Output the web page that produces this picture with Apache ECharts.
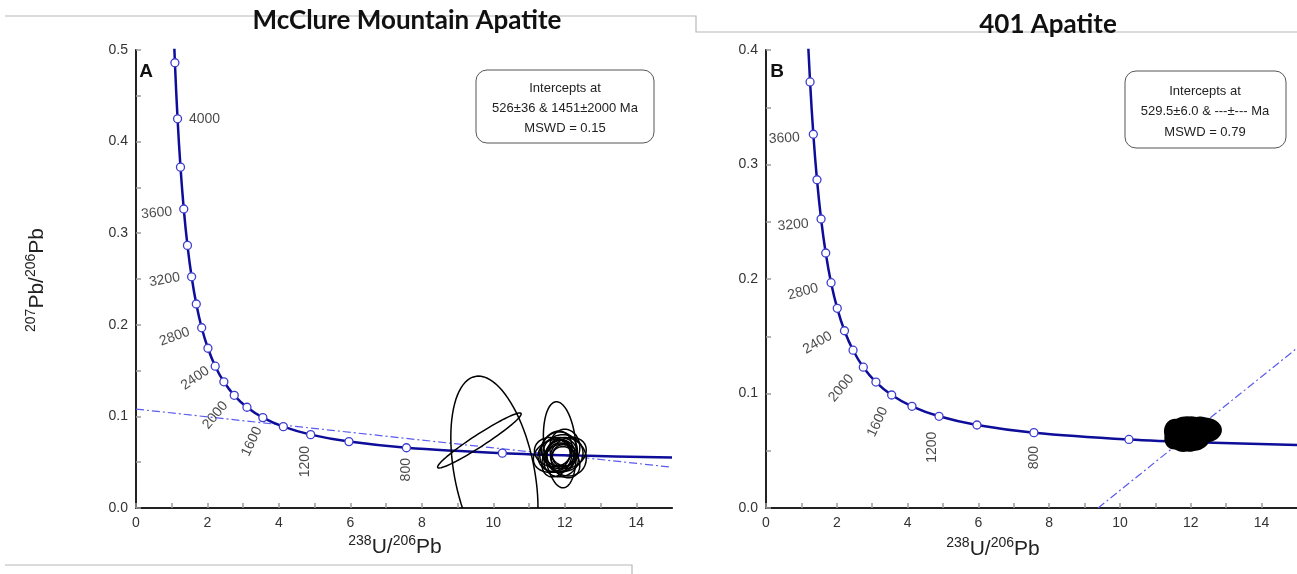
<!DOCTYPE html>
<html>
<head>
<meta charset="utf-8">
<script src="https://cdn.jsdelivr.net/npm/echarts@6/dist/echarts.min.js"></script>
<style>html,body{margin:0;padding:0;background:#fff}#c{width:1297px;height:574px}</style>
</head>
<body>
<div id="c"></div>
<script>
// ---- data ----
const concordiaAges = [4200,4000,3800,3600,3400,3200,3000,2800,2600,2400,2200,2000,1800,1600,1400,1200,1000,800,600];
const concordiaX = [1.089,1.163,1.245,1.337,1.440,1.556,1.687,1.838,2.013,2.217,2.459,2.749,3.105,3.550,4.123,4.888,5.959,7.568,10.252];
const concordiaY = [0.4861,0.4249,0.3721,0.3264,0.2867,0.2524,0.2227,0.1968,0.1744,0.1548,0.1378,0.1230,0.1100,0.0987,0.0888,0.0801,0.0725,0.0658,0.0599];
// curve ends beyond the marked ages (top and right)
const curveStart = [1.0215, 0.557];
const curveEnd = [[12.40, 0.0572], [15.0, 0.0551]];

const labelledAgesA = [4000,3600,3200,2800,2400,2000,1600,1200,800];
const labelledAgesB = [3600,3200,2800,2400,2000,1600,1200,800];

// discordia (regression) lines: endpoints [x, y]
const discordiaA = [[0, 0.108], [15, 0.0445]];
const discordiaB = [[9.38, 0], [15, 0.1396]];

// error ellipses: [centre x, centre y, sigma x, sigma y, correlation]
const ellipsesA = [
  [10.03, 0.0385, 1.22, 0.1055, -0.365],
  [9.61, 0.0737, 1.17, 0.030, 0.965],
  [11.86, 0.069, 0.46, 0.047, -0.2],
  [11.80, 0.058, 0.55, 0.019, 0.1],
  [11.95, 0.060, 0.56, 0.020, 0.0],
  [11.70, 0.057, 0.58, 0.018, 0.2],
  [12.05, 0.056, 0.55, 0.021, -0.1],
  [11.85, 0.063, 0.50, 0.020, 0.0],
  [11.90, 0.052, 0.48, 0.018, 0.1],
  [11.75, 0.062, 0.45, 0.022, 0.2],
  [12.00, 0.066, 0.42, 0.020, 0.0],
  [11.88, 0.055, 0.40, 0.016, 0.0],
  [11.82, 0.060, 0.35, 0.014, 0.1],
  [12.10, 0.060, 0.50, 0.017, 0.2],
  [11.65, 0.061, 0.50, 0.016, -0.1],
  [11.95, 0.057, 0.30, 0.012, 0.0],
  [11.78, 0.054, 0.42, 0.020, 0.3],
  [12.02, 0.050, 0.40, 0.017, -0.2]
];
const ellipsesB = [
  [11.75, 0.066, 0.40, 0.012, 0.1],
  [11.90, 0.064, 0.45, 0.013, 0.0],
  [12.10, 0.066, 0.45, 0.012, -0.1],
  [12.40, 0.068, 0.45, 0.010, 0.0],
  [11.60, 0.063, 0.32, 0.011, 0.2],
  [11.85, 0.070, 0.40, 0.009, 0.0],
  [12.00, 0.060, 0.38, 0.010, 0.1],
  [11.70, 0.060, 0.30, 0.010, -0.2],
  [12.20, 0.062, 0.35, 0.011, 0.2],
  [11.95, 0.067, 0.50, 0.012, 0.0],
  [12.30, 0.070, 0.35, 0.009, -0.1],
  [11.55, 0.067, 0.28, 0.010, 0.0],
  [12.05, 0.072, 0.30, 0.007, 0.0],
  [11.80, 0.057, 0.25, 0.007, 0.0]
];

const boxTextA = ['Intercepts at', '526±36 & 1451±2000 Ma', 'MSWD = 0.15'];
const boxTextB = ['Intercepts at', '529.5±6.0 & ---±--- Ma', 'MSWD = 0.79'];

// ---- label placement: screen offset dx, dy (px) and rotation (deg) ----
const labelPlaceA = {4000:[27,0,0],3600:[-27,4,5],3200:[-27,3,10],2800:[-27,9,20],2400:[-20,12,35],2000:[-19,20,50],1600:[-11,24,65],1200:[-6,27,90],800:[0,22,90]};
const labelPlaceB = {3600:[-29,4,3],3200:[-28,6,5],2800:[-28,9,15],2400:[-27,12,30],2000:[-22,21,50],1600:[-14,27,65],1200:[-7,31,90],800:[0,25,90]};

const FONT = 'Liberation Sans, Arial, sans-serif';
const markerPts = concordiaX.map((x,i)=>[x, concordiaY[i]]);
const curvePts = [curveStart].concat(markerPts, curveEnd);

function ageLabelData(ages, place){
  return ages.map(a=>{
    const i = concordiaAges.indexOf(a);
    const p = place[a];
    const th = p[2]*Math.PI/180, c=Math.cos(th), s=Math.sin(th);
    // offset is applied in the label's rotated frame, so rotate it back
    const ox = p[0]*c - p[1]*s, oy = p[0]*s + p[1]*c;
    return {value:[concordiaX[i], concordiaY[i]], name:String(a),
      label:{offset:[ox, oy], rotate:p[2]}};
  });
}

function ellipseRender(fill, lw){
  return function(params, api){
    const cx=api.value(0), cy=api.value(1), sx=api.value(2), sy=api.value(3), r=api.value(4);
    const k=Math.sqrt(1-r*r);
    const pts=[];
    for(let i=0;i<90;i++){
      const t=i/90*2*Math.PI;
      pts.push(api.coord([cx+sx*Math.cos(t), cy+sy*(r*Math.cos(t)+k*Math.sin(t))]));
    }
    return {type:'polygon', shape:{points:pts}, style:{fill:fill, stroke:'#000', lineWidth:lw}};
  };
}

function yFmt(v){ return Math.round(v*100)%10===0 ? v.toFixed(1) : ''; }
function xFmt(v){ return Math.round(v)%2===0 ? String(Math.round(v)) : ''; }

const richName = {
  m:{fontSize:21, fontFamily:FONT, fill:'#222', lineHeight:26},
  s:{fontSize:14, fontFamily:FONT, fill:'#222', verticalAlign:'top', lineHeight:26}
};

function baseX(grid){
  return {gridIndex:grid, type:'value', min:0, max:15, interval:1,
    axisLine:{lineStyle:{color:'#9a9a9a', width:2}},
    axisTick:{inside:true, length:5, lineStyle:{color:'#9a9a9a', width:1.5}},
    axisLabel:{formatter:xFmt, fontSize:14, color:'#333', fontFamily:FONT, margin:8, showMaxLabel:false},
    splitLine:{show:false}
  };
}
function topX(grid){
  return {gridIndex:grid, type:'value', min:0, max:15, position:'top',
    axisLine:{lineStyle:{color:'#222', width:2}}, axisTick:{show:false}, axisLabel:{show:false}, splitLine:{show:false}};
}
function baseY(grid, max){
  return {gridIndex:grid, type:'value', min:0, max:max, interval:0.05,
    axisLine:{lineStyle:{color:'#9a9a9a', width:2}},
    axisTick:{inside:true, length:5, lineStyle:{color:'#9a9a9a', width:1.5}},
    axisLabel:{formatter:yFmt, fontSize:14, color:'#333', fontFamily:FONT, margin:8},
    splitLine:{show:false}
  };
}
function rightY(grid, max){
  return {gridIndex:grid, type:'value', min:0, max:max, position:'right',
    axisLine:{lineStyle:{color:'#222', width:2}}, axisTick:{show:false}, axisLabel:{show:false}, splitLine:{show:false}};
}

function panelSeries(xi, yi, ages, place, discordia, ellipses, fill, lw){
  return [
    {type:'line', xAxisIndex:xi, yAxisIndex:yi, data:discordia, showSymbol:false, symbol:'none', clip:true,
      lineStyle:{color:'#5b5bf0', width:1.2, type:[8,3,2,3]}, z:2, silent:true},
    {type:'line', xAxisIndex:xi, yAxisIndex:yi, data:curvePts, showSymbol:false, symbol:'none', smooth:0.35, clip:true,
      lineStyle:{color:'#0d0d9a', width:2.5}, z:3, silent:true},
    {type:'scatter', xAxisIndex:xi, yAxisIndex:yi, data:markerPts, symbol:'circle', symbolSize:8, clip:true,
      itemStyle:{color:'#fff', borderColor:'#3d3dd0', borderWidth:1.3, opacity:1}, z:4, silent:true},
    {type:'scatter', xAxisIndex:xi, yAxisIndex:yi, data:ageLabelData(ages, place), symbolSize:0, clip:false,
      label:{show:true, position:'inside', formatter:'{b}', fontSize:14, color:'#1a1a1a', fontFamily:FONT, align:'center', verticalAlign:'middle'},
      z:5, silent:true},
    {type:'custom', xAxisIndex:xi, yAxisIndex:yi, data:ellipses, clip:true, renderItem:ellipseRender(fill, lw),
      encode:{x:0, y:1}, z:6, silent:true}
  ];
}

function boxGraphic(x, y, w, h, lines, cx, ly0, lh){
  const els = [{type:'rect', shape:{x:x, y:y, width:w, height:h, r:11}, style:{fill:'#fff', stroke:'#555', lineWidth:1}, z:10}];
  lines.forEach((t,i)=>els.push({type:'text', x:cx, y:ly0+i*lh, z:11,
    style:{text:t, textAlign:'center', textVerticalAlign:'middle', fontSize:13, fontFamily:FONT, fill:'#222'}}));
  return els;
}

function axisTitle(x, y, text, rot){
  return {type:'text', x:x, y:y, rotation:rot||0, z:12,
    style:{text:text, rich:richName, textAlign:'center', textVerticalAlign:'middle'}};
}

const option = {
  animation:false,
  grid:[
    {left:136, top:50, width:536, height:458},
    {left:766, top:50, width:534, height:458}
  ],
  xAxis:[baseX(0), baseX(1), topX(0), topX(1)],
  yAxis:[baseY(0, 0.5), baseY(1, 0.4), rightY(0, 0.5), rightY(1, 0.4)],
  series: [].concat(
    panelSeries(0, 0, labelledAgesA, labelPlaceA, discordiaA, ellipsesA, 'none', 1.5),
    panelSeries(1, 1, labelledAgesB, labelPlaceB, discordiaB, ellipsesB, '#000', 2)
  ),
  graphic:[
    {type:'polyline', shape:{points:[[5,16],[696,16],[696,32],[1297,32]]}, style:{stroke:'#b8b8b8', lineWidth:1.2, fill:null}, z:0},
    {type:'polyline', shape:{points:[[5,565],[632,565],[632,574]]}, style:{stroke:'#b8b8b8', lineWidth:1.2, fill:null}, z:0},
    {type:'text', x:407, y:21, style:{text:'McClure Mountain Apatite', textAlign:'center', textVerticalAlign:'middle', font:'bold 26px Lato, "Open Sans", sans-serif', fill:'#111'}, z:12},
    {type:'text', x:1048, y:25, style:{text:'401 Apatite', textAlign:'center', textVerticalAlign:'middle', font:'bold 26px Lato, "Open Sans", sans-serif', fill:'#111'}, z:12},
    {type:'text', x:146, y:72, style:{text:'A', textAlign:'center', textVerticalAlign:'middle', font:'bold 19px "Liberation Sans", Arial, sans-serif', fill:'#111'}, z:12},
    {type:'text', x:777, y:72, style:{text:'B', textAlign:'center', textVerticalAlign:'middle', font:'bold 19px "Liberation Sans", Arial, sans-serif', fill:'#111'}, z:12},
    axisTitle(395, 547, '{s|238}{m|U/}{s|206}{m|Pb}'),
    axisTitle(993, 549, '{s|238}{m|U/}{s|206}{m|Pb}'),
    axisTitle(37, 280, '{s|207}{m|Pb/}{s|206}{m|Pb}', Math.PI/2)
  ].concat(
    boxGraphic(476, 70, 178, 73, boxTextA, 565, 88, 20),
    boxGraphic(1125, 71, 161, 77, boxTextB, 1205, 91, 20.5)
  )
};

const chart = echarts.init(document.getElementById('c'), null, {renderer:'canvas'});
chart.setOption(option);
</script>
</body>
</html>
